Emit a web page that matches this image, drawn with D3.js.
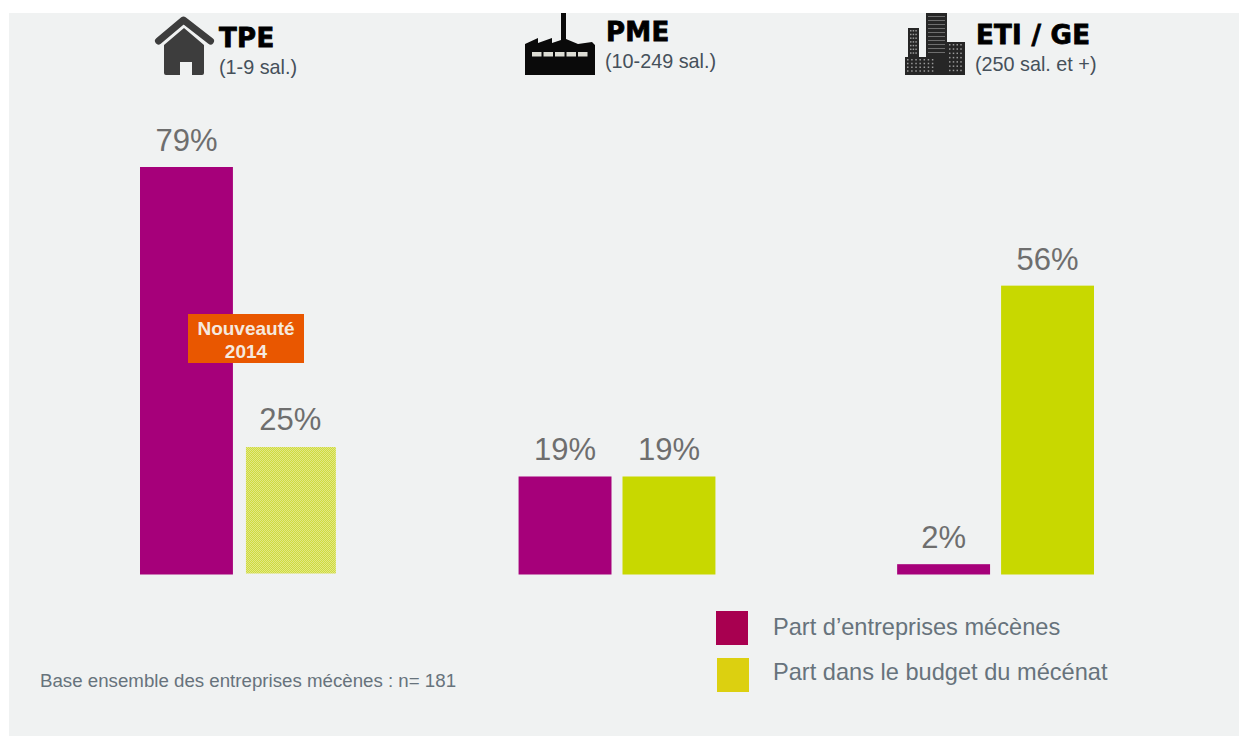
<!DOCTYPE html>
<html>
<head>
<meta charset="utf-8">
<script src="https://cdn.jsdelivr.net/npm/d3@7"></script>
<style>
    html, body { margin: 0; padding: 0; background: #fff; }
    svg { display: block; }
    text { font-family: "Liberation Sans", Arial, sans-serif; }
    .group-name { font-family: "DejaVu Sans", sans-serif; font-weight: bold; font-size: 26px; letter-spacing: .3px; fill: #000; stroke: #000; stroke-width: .8px; }
    .group-sub { font-size: 19.8px; fill: #45505a; }
    .value { font-size: 31px; fill: #6e6e6e; text-anchor: middle; }
    .legend-label { font-size: 23.6px; fill: #67737c; }
    .note { font-size: 18.7px; fill: #67737c; }
    .badge { font-size: 19px; font-weight: bold; fill: #f5e9df; text-anchor: middle; }
</style>
</head>
<body>
<svg width="1239" height="736"></svg>
<script>
    const w = 1239, h = 736;

    const groups = ["TPE", "PME", "ETI / GE"];
    const groupSubs = ["(1-9 sal.)", "(10-249 sal.)", "(250 sal. et +)"];
    const seriesNames = ["Part d’entreprises mécènes", "Part dans le budget du mécénat"];
    const shareCompanies = [79, 19, 2];
    const shareBudget = [25, 19, 56];

    const barColors = ["#a6007a", "#c8d800"];
    const legendColors = ["#a80050", "#dcd010"];

    const svg = d3.select("svg");

    svg.append("rect").attr("x", 9).attr("y", 13)
            .attr("width", w - 9).attr("height", h - 13)
            .attr("fill", "#f0f2f2");

    const scaleX = d3.scaleBand().domain(groups).range([140, 1094]).paddingInner(0.48);
    const scaleSeries = d3.scaleBand().domain([0, 1]).range([0, scaleX.bandwidth()]).paddingInner(0.106);
    const scaleY = d3.scaleLinear().domain([0, 79]).range([574.5, 167]);

    // dithered fill of the "new in 2014" bar
    const defs = svg.append("defs");
    const dither = defs.append("pattern").attr("id", "dither")
            .attr("patternUnits", "userSpaceOnUse")
            .attr("width", 2).attr("height", 2);
    dither.append("rect").attr("width", 2).attr("height", 2).attr("fill", "#cfdc3c");
    dither.append("rect").attr("width", 1).attr("height", 1).attr("fill", "#e2e786");
    dither.append("rect").attr("x", 1).attr("y", 1).attr("width", 1).attr("height", 1).attr("fill", "#e2e786");

    const bars = [];
    groups.forEach((g, i) => {
        bars.push({group: g, series: 0, value: shareCompanies[i]});
        bars.push({group: g, series: 1, value: shareBudget[i]});
    });

    function isDithered(d) { return d.group == "TPE" && d.series == 1; }

    svg.selectAll("rect.bar")
            .data(bars)
            .join("rect").attr("class", "bar")
            .attr("x", d => scaleX(d.group) + scaleSeries(d.series) + (isDithered(d) ? 2 : 0))
            .attr("y", d => scaleY(d.value) + (isDithered(d) ? 1.5 : 0))
            .attr("width", d => scaleSeries.bandwidth() - (isDithered(d) ? 3 : 0))
            .attr("height", d => scaleY(0) - scaleY(d.value) - (isDithered(d) ? 2.5 : 0))
            .attr("fill", d => isDithered(d) ? "url(#dither)" : barColors[d.series]);

    svg.selectAll("text.value")
            .data(bars)
            .join("text").attr("class", "value")
            .attr("x", d => scaleX(d.group) + scaleSeries(d.series) + scaleSeries.bandwidth() / 2)
            .attr("y", d => scaleY(d.value) - 16)
            .text(d => d.value + "%");

    // badge
    svg.append("rect").attr("x", 188).attr("y", 314)
            .attr("width", 116).attr("height", 49)
            .attr("fill", "#e95700");
    svg.append("text").attr("class", "badge").attr("x", 246).attr("y", 335).text("Nouveauté");
    svg.append("text").attr("class", "badge").attr("x", 246).attr("y", 358).text("2014");

    // headers
    const nameX = [219, 606, 976], nameY = [47, 41, 44];
    const subX = [219, 605, 975], subY = [74, 68, 71];
    groups.forEach((g, i) => {
        svg.append("text").attr("class", "group-name").attr("x", nameX[i]).attr("y", nameY[i]).text(g);
        svg.append("text").attr("class", "group-sub").attr("x", subX[i]).attr("y", subY[i]).text(groupSubs[i]);
    });

    drawHouse();
    drawFactory();
    drawBuildings();

    // legend
    const legendY = [611, 658], legendX = [716, 717], legendTextY = [635, 680];
    seriesNames.forEach((s, i) => {
        svg.append("rect").attr("x", legendX[i]).attr("y", legendY[i])
                .attr("width", 32).attr("height", 34)
                .attr("fill", legendColors[i]);
        svg.append("text").attr("class", "legend-label").attr("x", 773).attr("y", legendTextY[i]).text(s);
    });

    svg.append("text").attr("class", "note").attr("x", 40).attr("y", 687)
            .text("Base ensemble des entreprises mécènes : n= 181");

    function drawHouse() {
        const g = svg.append("g").attr("fill", "#3d3d3d");
        g.append("path")
                .attr("d", "M158.5,41 L183.5,20 L210.5,41")
                .attr("fill", "none").attr("stroke", "#3d3d3d")
                .attr("stroke-width", 7).attr("stroke-linecap", "round").attr("stroke-linejoin", "round");
        g.append("path")
                .attr("d", "M184,28 L204,45 L204,73 Q204,75 202,75 L192,75 L192,62 L180,62 L180,75 L166,75 Q164,75 164,73 L164,45 Z");
    }

    function drawFactory() {
        const g = svg.append("g");
        g.append("path").attr("fill", "#0a0a0a")
                .attr("d", "M525,44 L538,38 L538,43 L552,38 L552,43 L561,40 L561,13 L566,13 L566,39 L578,44 L592,42 L595,45 L595,75 L525,75 Z");
        g.selectAll("rect.window")
                .data(d3.range(5))
                .join("rect").attr("class", "window")
                .attr("x", d => 532 + d * 11.5)
                .attr("y", 52).attr("width", 9.5).attr("height", 4.5)
                .attr("fill", "#dcdcd4");
    }

    function drawBuildings() {
        const g = svg.append("g").attr("fill", "#262626");
        const blocks = [
            {x: 926, y: 13, w: 21, h: 62, c: 2, r: 0},
            {x: 908, y: 28, w: 11, h: 29, c: 3, r: 7},
            {x: 947, y: 42, w: 18, h: 33, c: 4, r: 7},
            {x: 905, y: 57, w: 32, h: 18, c: 7, r: 4}
        ];
        blocks.forEach(b => {
            g.append("rect").attr("x", b.x).attr("y", b.y).attr("width", b.w).attr("height", b.h);
            for (let r = 0; r < b.r; r++) {
                for (let c = 0; c < b.c; c++) {
                    g.append("rect")
                            .attr("x", b.x + 2 + c * (b.w - 3) / b.c)
                            .attr("y", b.y + 2 + r * (b.h - 3) / b.r)
                            .attr("width", 1.5).attr("height", 1.5)
                            .attr("fill", "#9a9a9a");
                }
            }
        });
        // tower floors
        d3.range(10).forEach(i => {
            g.append("rect").attr("x", 928).attr("y", 16 + i * 4)
                    .attr("width", 17).attr("height", 1).attr("fill", "#6e6e6e");
        });
    }
</script>
</body>
</html>
